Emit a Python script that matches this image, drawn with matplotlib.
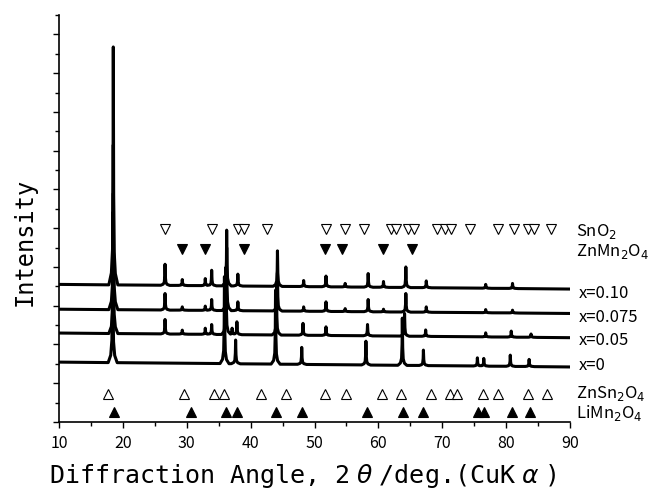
import numpy as np
import matplotlib
matplotlib.use('Agg')
import matplotlib.pyplot as plt
from matplotlib.ticker import MultipleLocator, NullFormatter

plt.rcParams['font.family'] = ['Noto Sans CJK JP', 'DejaVu Sans']
plt.rcParams['mathtext.fontset'] = 'dejavusans'

# ---------------- data ----------------
sample_labels = ['x=0.10', 'x=0.075', 'x=0.05', 'x=0']
baseline_start = [7.10, 5.82, 4.59, 3.09]   # intensity level at 10 deg
baseline_end = [6.86, 5.60, 4.35, 2.84]     # intensity level at 90 deg

peaks_x010_pos = [18.5, 26.6, 29.3, 32.9, 33.9, 36.25, 38.0, 44.2, 48.3, 51.8,
                  54.8, 58.4, 60.8, 64.3, 67.5, 76.8, 81.0]
peaks_x010_top = [19.35, 8.14, 7.35, 7.40, 7.83, 9.90, 7.63, 8.83, 7.30, 7.53,
                  7.15, 7.66, 7.25, 8.00, 7.28, 7.10, 7.15]

peaks_x0075_pos = [18.5, 26.6, 29.3, 32.9, 33.9, 36.25, 38.0, 44.2, 48.3, 51.8,
                   54.8, 58.4, 60.8, 64.3, 67.5, 76.8, 81.0]
peaks_x0075_top = [14.3, 6.63, 5.94, 5.98, 6.32, 9.0, 6.20, 7.70, 5.94, 6.20,
                   5.85, 6.32, 5.82, 6.63, 5.94, 5.80, 5.77]

peaks_x005_pos = [18.5, 26.6, 29.3, 32.9, 33.9, 36.15, 37.1, 37.85, 44.05, 48.2,
                  51.8, 58.3, 64.1, 67.4, 76.8, 80.8, 83.9]
peaks_x005_top = [11.8, 5.29, 4.74, 4.84, 5.03, 8.0, 4.84, 5.17, 7.0, 5.09,
                  4.91, 5.03, 5.60, 4.75, 4.60, 4.69, 4.54]

peaks_x0_pos = [18.4, 35.9, 37.65, 43.9, 48.0, 58.05, 63.75, 67.05, 75.5, 76.5,
                80.65, 83.6]
peaks_x0_top = [10.8, 7.5, 4.23, 6.8, 3.85, 4.17, 5.36, 3.71, 3.31, 3.28,
                3.45, 3.23]

# reference pattern markers
sno2_pos = [26.6, 33.9, 37.95, 38.95, 42.6, 51.8, 54.8, 57.8, 61.9, 62.7,
            64.6, 65.6, 69.2, 70.5, 71.3, 74.4, 78.8, 81.3, 83.5, 84.3, 87.1]
znmn2o4_pos = [29.3, 32.9, 39.0, 51.7, 54.3, 60.8, 65.2]
znsn2o4_pos = [17.7, 29.5, 34.2, 35.8, 41.6, 45.5, 51.6, 55.0, 60.5, 63.5,
               68.3, 71.2, 72.3, 76.4, 78.8, 83.5, 86.4]
limn2o4_pos = [18.6, 30.7, 36.1, 37.8, 44.0, 48.1, 58.2, 63.9, 67.0, 75.6,
               76.6, 80.9, 83.7]
marker_rows = [9.95, 8.95, 1.44, 0.5]   # SnO2, ZnMn2O4, ZnSn2O4, LiMn2O4

# ---------------- figure ----------------
fig = plt.figure(figsize=(6.51, 4.97), dpi=100)
ax = fig.add_axes([59 / 651, 1 - 422 / 497, 511 / 651, 407 / 497])

grid = np.arange(10.0, 90.0001, 0.01)
shape_off = np.array([-0.7, -0.3, -0.12, -0.04, 0.0, 0.04, 0.12, 0.3, 0.7])
shape_frac = np.array([0.0, 0.05, 0.15, 0.45, 1.0, 0.45, 0.15, 0.05, 0.0])

all_pos = [peaks_x010_pos, peaks_x0075_pos, peaks_x005_pos, peaks_x0_pos]
all_top = [peaks_x010_top, peaks_x0075_top, peaks_x005_top, peaks_x0_top]

for i in range(4):
    base = np.interp(grid, [10, 90], [baseline_start[i], baseline_end[i]])
    y = base.copy()
    for p, t in zip(all_pos[i], all_top[i]):
        b = np.interp(p, [10, 90], [baseline_start[i], baseline_end[i]])
        y += (t - b) * np.interp(grid, p + shape_off, shape_frac, left=0, right=0)
    ax.plot(grid, y, color='black', lw=2.2, solid_joinstyle='round')

ms = 7
ax.plot(sno2_pos, [marker_rows[0]] * len(sno2_pos), 'v', ms=ms,
        mfc='white', mec='black', mew=0.8, ls='none', clip_on=False)
ax.plot(znmn2o4_pos, [marker_rows[1]] * len(znmn2o4_pos), 'v', ms=ms,
        mfc='black', mec='black', mew=0.8, ls='none', clip_on=False)
ax.plot(znsn2o4_pos, [marker_rows[2]] * len(znsn2o4_pos), '^', ms=ms,
        mfc='white', mec='black', mew=0.8, ls='none', clip_on=False)
ax.plot(limn2o4_pos, [marker_rows[3]] * len(limn2o4_pos), '^', ms=ms,
        mfc='black', mec='black', mew=0.8, ls='none', clip_on=False)

# right-hand labels
lab_fs = 12
ax.text(91.0, 9.85, 'SnO$_2$', fontsize=lab_fs, va='center', ha='left', clip_on=False)
ax.text(91.0, 8.80, 'ZnMn$_2$O$_4$', fontsize=lab_fs, va='center', ha='left', clip_on=False)
label_y = [6.65, 5.40, 4.20, 2.93]
for lab, ly in zip(sample_labels, label_y):
    ax.text(91.4, ly, lab, fontsize=lab_fs, va='center', ha='left', clip_on=False)
ax.text(91.0, 1.45, 'ZnSn$_2$O$_4$', fontsize=lab_fs, va='center', ha='left', clip_on=False)
ax.text(91.0, 0.45, 'LiMn$_2$O$_4$', fontsize=lab_fs, va='center', ha='left', clip_on=False)

# axes styling
ax.set_xlim(10, 90)
ax.set_ylim(0, 21)
ax.spines['top'].set_visible(False)
ax.spines['right'].set_visible(False)
ax.spines['left'].set_linewidth(1.2)
ax.spines['bottom'].set_linewidth(1.2)
ax.xaxis.set_major_locator(MultipleLocator(10))
ax.xaxis.set_minor_locator(MultipleLocator(5))
ax.yaxis.set_major_locator(MultipleLocator(2))
ax.yaxis.set_minor_locator(MultipleLocator(1))
ax.yaxis.set_major_formatter(NullFormatter())
ax.tick_params(which='major', direction='out', length=4.5, width=1.0, labelsize=11.5, pad=5)
ax.tick_params(which='minor', direction='out', length=2.8, width=1.0)

fig.text(303 / 651, 1 - 483 / 497,
         r'Diffraction Angle, 2$\;\theta\;$/deg.(CuK$\;\alpha\;$)',
         fontsize=18, ha='center', va='baseline', family='DejaVu Sans Mono')
fig.text(25 / 651, 1 - 242 / 497, 'Intensity', fontsize=17, rotation=90,
         ha='center', va='center', family='DejaVu Sans Mono')

fig.savefig('out.png', dpi=100)
